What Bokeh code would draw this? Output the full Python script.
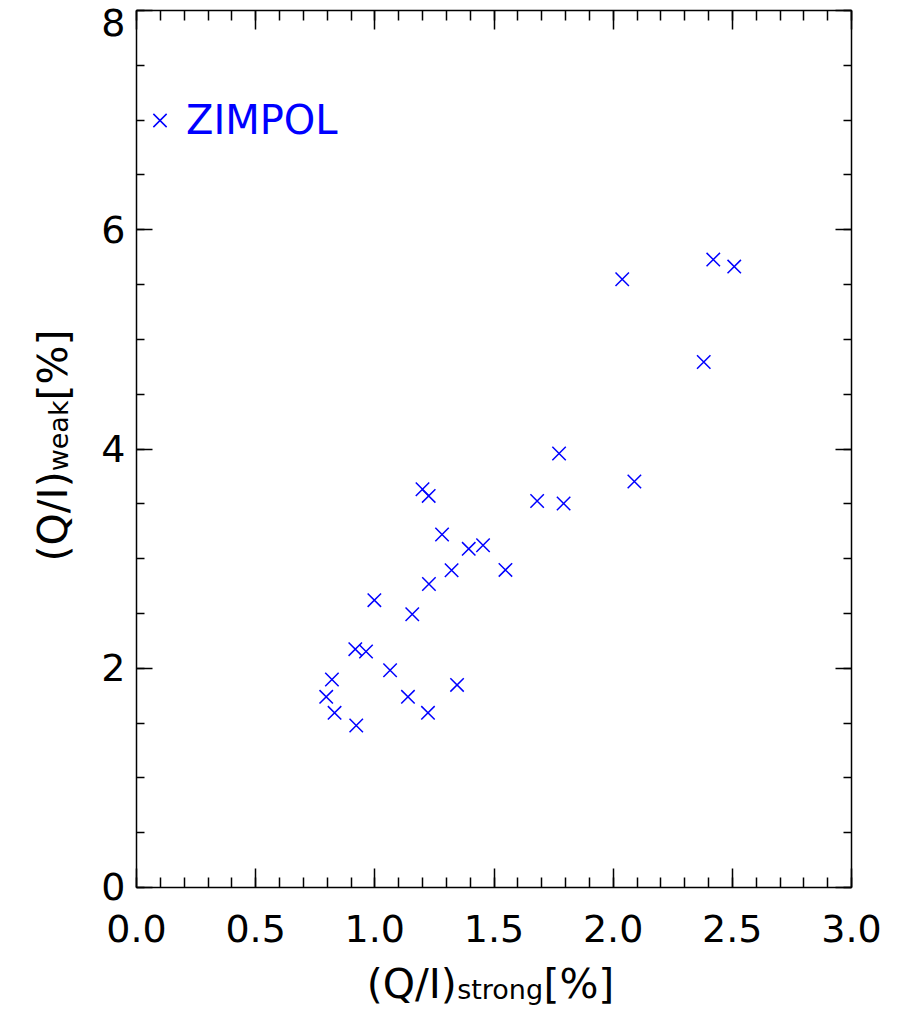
import math
from bokeh.plotting import figure
from bokeh.layouts import row, column
from bokeh.models import (LinearAxis, FixedTicker, PrintfTickFormatter, Range1d,
                          Legend, LegendItem)
from bokeh.core.properties import value
from bokeh.embed import file_html
from bokeh.resources import INLINE

# ---- data ----
q_strong = [1.200, 1.226, 1.681, 1.282, 1.394, 1.454, 1.322, 1.548, 1.227, 0.998,
            1.157, 0.918, 0.963, 1.064, 0.820, 1.345, 0.796, 1.139, 0.831, 1.223,
            0.922, 2.038, 2.420, 2.508, 2.380, 1.773, 2.089, 1.792]
q_weak = [3.633, 3.572, 3.526, 3.220, 3.089, 3.122, 2.894, 2.897, 2.769, 2.621,
          2.493, 2.174, 2.153, 1.982, 1.897, 1.848, 1.739, 1.739, 1.593, 1.593,
          1.478, 5.549, 5.728, 5.664, 4.794, 3.959, 3.703, 3.503]
series_name = "ZIMPOL"

x_major = [0.0, 0.5, 1.0, 1.5, 2.0, 2.5, 3.0]
x_minor = [0.0, 0.1, 0.2, 0.3, 0.4, 0.5, 0.6, 0.7, 0.8, 0.9, 1.0, 1.1, 1.2, 1.3, 1.4,
           1.5, 1.6, 1.7, 1.8, 1.9, 2.0, 2.1, 2.2, 2.3, 2.4, 2.5, 2.6, 2.7, 2.8, 2.9, 3.0]
y_major = [0, 2, 4, 6, 8]
y_minor = [0, 0.5, 1, 1.5, 2, 2.5, 3, 3.5, 4, 4.5, 5, 5.5, 6, 6.5, 7, 7.5, 8]

x_title = ["(Q/I)", "strong", "[%]"]
y_title = ["(Q/I)", "weak", "[%]"]

# ---- layout / style constants ----
FONT = "DejaVu Sans"
TOTAL_W, TOTAL_H = 888, 1010
YLAB_W = 90
MAIN_H = 958
FRAME_TOP, FRAME_BOTTOM = 10, 887   # page pixels of the plot frame

p = figure(width=TOTAL_W - YLAB_W, height=MAIN_H, output_backend="svg",
           toolbar_location=None,
           x_range=Range1d(0, 3), y_range=Range1d(0, 8),
           x_axis_type=None, y_axis_type=None,
           min_border_left=46, min_border_right=37,
           min_border_top=FRAME_TOP, min_border_bottom=MAIN_H - FRAME_BOTTOM)
p.xgrid.visible = False
p.ygrid.visible = False
p.outline_line_color = None
p.background_fill_color = "white"
p.border_fill_color = "white"


def make_axis(major, minor, fmt, tick_major, tick_minor, show_labels, standoff):
    ax = LinearAxis(ticker=FixedTicker(ticks=major, minor_ticks=minor),
                    formatter=PrintfTickFormatter(format=fmt))
    ax.axis_line_color = "black"
    ax.axis_line_width = 1.5
    ax.major_tick_line_color = "black"
    ax.minor_tick_line_color = "black"
    ax.major_tick_line_width = 1.5
    ax.minor_tick_line_width = 1.5
    ax.major_tick_in = tick_major
    ax.major_tick_out = 0
    ax.minor_tick_in = tick_minor
    ax.minor_tick_out = 0
    if show_labels:
        ax.major_label_text_font = FONT
        ax.major_label_text_font_size = "38px"
        ax.major_label_text_color = "black"
        ax.major_label_standoff = standoff
    else:
        ax.major_label_text_font_size = "0px"
        ax.major_label_text_color = None
        ax.major_label_standoff = 0
    return ax


p.add_layout(make_axis(x_major, x_minor, "%.1f", 19, 10, True, 27), "below")
p.add_layout(make_axis(x_major, x_minor, "%.1f", 19, 10, False, 0), "above")
left_ax = make_axis(y_major, y_minor, "%d", 16, 8, True, 11)
# end labels are kept inside the frame's height, as in the reference
left_ax.major_label_overrides = {y_major[-1]: "\n" + str(y_major[-1]),
                                 y_major[0]: str(y_major[0]) + "\n"}
left_ax.major_label_text_line_height = 0.01
p.add_layout(left_ax, "left")
p.add_layout(make_axis(y_major, y_minor, "%d", 16, 8, False, 0), "right")

r = p.scatter(q_strong, q_weak, marker="x", size=19, line_color="blue", line_width=1.5)

legend = Legend(items=[LegendItem(label=series_name, renderers=[r])],
                location=(0, 743), padding=0, margin=0, spacing=0,
                border_line_color=None, background_fill_alpha=0,
                glyph_width=47, glyph_height=48, label_standoff=3,
                label_text_font=FONT, label_text_font_size="40px",
                label_text_color="blue")
p.add_layout(legend)


def label_fig(w, h, xr, yr, **borders):
    f = figure(width=w, height=h, output_backend="svg", toolbar_location=None,
               x_range=xr, y_range=yr,
               x_axis_type=None, y_axis_type=None, **borders)
    f.xgrid.visible = False
    f.ygrid.visible = False
    f.outline_line_color = None
    f.background_fill_color = "white"
    f.border_fill_color = "white"
    return f


def mid_offset(px):
    # distance from alphabetic baseline to the middle of the text box
    return 0.346 * px


def adv(txt, px):
    # approximate DejaVu Sans advance width of a title piece
    widths = {"(": .390, ")": .390, "Q": .787, "/": .337, "I": .295, "[": .390,
              "]": .390, "%": .950, "s": .521, "t": .392, "r": .411, "o": .612,
              "n": .634, "g": .635, "w": .818, "e": .615, "a": .613, "k": .579}
    return sum(widths[c] for c in txt) * px


title_sizes = [41, 27, 41]

# y-axis title (rotated, centred pieces). The strip's frame is aligned with the
# main frame by the row layout, so its y range spans the same page pixels.
fy = label_fig(YLAB_W, MAIN_H, Range1d(0, YLAB_W),
               Range1d(MAIN_H - FRAME_BOTTOM, MAIN_H - FRAME_TOP),
               min_border_left=0, min_border_right=0,
               min_border_top=FRAME_TOP, min_border_bottom=MAIN_H - FRAME_BOTTOM)
y_base_x = 67.0
start = 561.0
for txt, fs in zip(y_title, title_sizes):
    w = adv(txt, fs)
    fy.text(x=[y_base_x - mid_offset(fs)], y=[MAIN_H - (start - w / 2)], text=[txt],
            angle=math.pi / 2,
            text_font=value(FONT), text_font_size=value(f"{fs}px"), text_color="black",
            text_align="center", text_baseline="middle")
    start -= w

# x-axis title (centred pieces); pixel coordinates of the bottom strip
fx = label_fig(TOTAL_W, TOTAL_H - MAIN_H, Range1d(0, TOTAL_W),
               Range1d(0, TOTAL_H - MAIN_H), min_border=0)
x_base_y = 998.0
start = 366.2
for txt, fs in zip(x_title, title_sizes):
    w = adv(txt, fs)
    fx.text(x=[start + w / 2], y=[TOTAL_H - (x_base_y - mid_offset(fs))], text=[txt],
            text_font=value(FONT), text_font_size=value(f"{fs}px"), text_color="black",
            text_align="center", text_baseline="middle")
    start += w

layout = column(row(fy, p), fx)
open("out.html", "w").write(file_html(layout, INLINE))
